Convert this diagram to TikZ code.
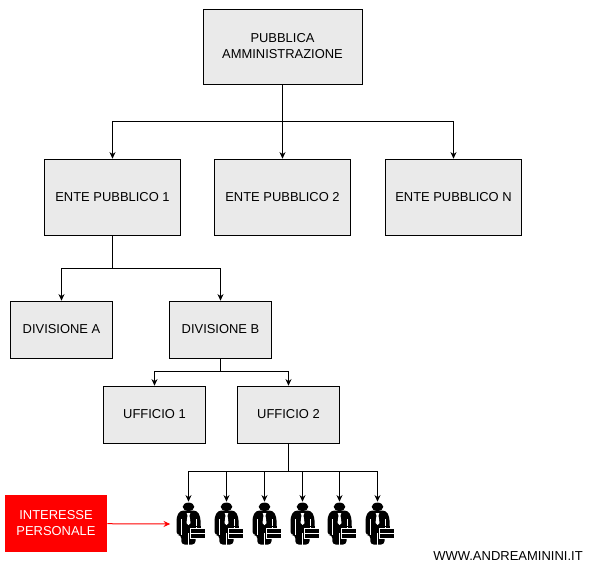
\documentclass[tikz,border=0pt]{standalone}
\usepackage{fontspec}
\usepackage{xcolor}
\setmainfont{Liberation Sans}
\usetikzlibrary{arrows.meta, positioning, calc}
\definecolor{boxgray}{HTML}{EAEAEA}

\begin{document}
\begin{tikzpicture}[x=0.75pt, y=-0.75pt,
    box/.style={rectangle, draw, fill=boxgray, inner sep=0pt, align=center, font=\fontsize{9.7}{12}\selectfont},
    big/.style={box, minimum width=102pt, minimum height=57pt},
    mid/.style={box, minimum width=76.5pt, minimum height=42.75pt},
    redbox/.style={box, draw=none, fill=red, text=white, minimum width=76.5pt, minimum height=42.75pt},
    link/.style={line width=0.75pt, -{Stealth[length=5pt, width=4.5pt]}},
    bus/.style={line width=0.75pt},
    person/.style={rectangle, minimum width=27pt, minimum height=33pt, inner sep=0pt},
    man/.pic={
        \fill (0,-17.2) ellipse (5.8 and 4.2);
        \fill[rounded corners=2.5pt] (-8.5,-13.5) -- (8.5,-13.5) -- (12,-7) -- (12,6) -- (7,6) -- (7,20.5) -- (-7.2,20.5) -- (-7.2,11) -- (-12,11) -- (-12,-7) -- cycle;
        \draw[white, line width=0.35pt] (-7.6,-5) -- (-7.6,11) (7.6,-5) -- (7.6,4) (0,9) -- (0,20.5);
        \fill[white] (-1.8,-11) -- (1.8,-11) -- (1,-8.5) -- (2,-1) -- (0,1) -- (-2,-1) -- (-1,-8.5) -- cycle;
        \fill[draw=white, line width=0.4pt] (1.3,4.3) rectangle (16.3,14.3);
        \draw[white, line width=0.25pt] (1.3,9.5) -- (16.3,9.5);
        \draw[line width=0.6pt] (5.5,4.3) -- (5.5,2.5) -- (12,2.5) -- (12,4.3);
    }]
    % top levels
    \node[box, minimum width=119.25pt, minimum height=56.25pt] (pa) at (282.5,46.5) {PUBBLICA\\AMMINISTRAZIONE};
    \node[big] (ente1) at (112.5,197) {ENTE PUBBLICO 1};
    \node[big] (ente2) at (282.5,197) {ENTE PUBBLICO 2};
    \node[big] (enten) at (453.5,197) {ENTE PUBBLICO N};
    \node[mid] (diva) at (61.5,329.5) {DIVISIONE A};
    \node[mid] (divb) at (220.5,329.5) {DIVISIONE B};
    \node[mid] (uff1) at (154.5,414.5) {UFFICIO 1};
    \node[mid] (uff2) at (288.5,414.5) {UFFICIO 2};
    \node[redbox] (interesse) at (56,523.5) {INTERESSE\\PERSONALE};
    \node[font=\fontsize{9.75}{12}\selectfont] (sito) at (508,556) {WWW.ANDREAMININI.IT};
    % people
    \foreach \n/\px in {1/188.5, 2/226.5, 3/264.5, 4/302.5, 5/339.5, 6/377.5} {
        \node[person] (p\n) at (\px,524) {};
        \pic at (p\n) {man};
    }
    % junctions
    \coordinate (j1) at (282.5,121.5);
    \coordinate (j2) at (112.5,268.5);
    \coordinate (j3) at (220.5,371.5);
    \coordinate (j4) at (288.5,471.5);
    % connectors
    \draw[bus] (pa) -- (j1);
    \draw[bus] (ente1) -- (j2);
    \draw[bus] (divb) -- (j3);
    \draw[bus] (uff2) -- (j4);
    \draw[link] (j1) -| (ente1);
    \draw[link] (j1) -- (ente2);
    \draw[link] (j1) -| (enten);
    \draw[link] (j2) -| (diva);
    \draw[link] (j2) -| (divb);
    \draw[link] (j3) -| (uff1);
    \draw[link] (j3) -| (uff2);
    \foreach \n in {1,...,6} {
        \draw[link] (j4) -| (p\n.north);
    }
    \draw[link, red] (interesse) -- (p1.west);
    \useasboundingbox (0,0) rectangle (592,577);
\end{tikzpicture}
\end{document}
